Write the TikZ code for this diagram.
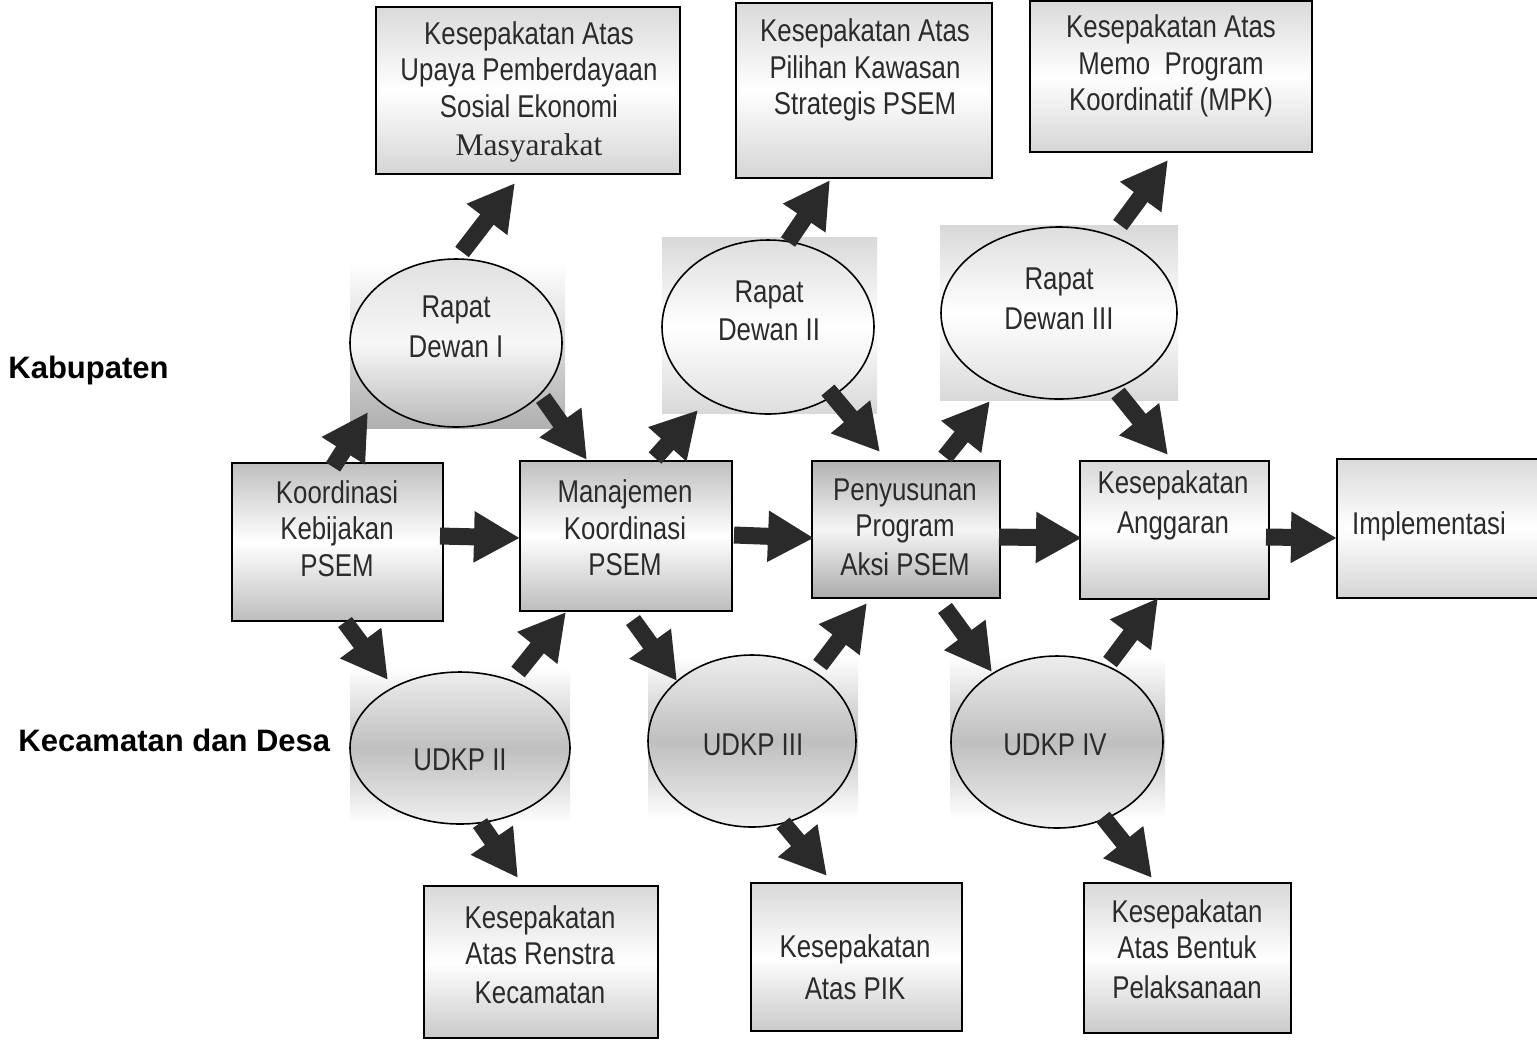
\documentclass[tikz,border=0pt]{standalone}
\usepackage{fontspec}
\setmainfont{Liberation Sans}[FakeStretch=0.82]
\newfontfamily\tnr{Liberation Serif}
\newfontfamily\lbold{Liberation Sans}
\usetikzlibrary{arrows.meta,calc,shapes.geometric}
\definecolor{arr}{HTML}{2A2A2A}
\definecolor{txtc}{HTML}{2B2B2B}
\begin{document}
\begin{tikzpicture}[x=0.5pt,y=-0.5pt,
  box/.style={draw=black,line width=1.2pt,rectangle,inner sep=0pt},
  boxlight/.style={box,top color=gray!29,bottom color=gray!33,middle color=white},
  boxlow/.style={box,top color=gray!30,bottom color=gray!42,middle color=white},
  boxmid/.style={box,top color=gray!50,bottom color=gray!52,middle color=white},
  boxdark/.style={box,top color=gray!60,bottom color=gray!66,middle color=gray!8},
  bgA/.style={rectangle,inner sep=0pt,top color=white,bottom color=gray!62},
  bgB/.style={rectangle,inner sep=0pt,top color=gray!30,bottom color=gray!30,middle color=white},
  bgC/.style={rectangle,inner sep=0pt,top color=white,bottom color=white,middle color=gray!50},
  ell/.style={ellipse,draw=black,line width=0.8pt,inner sep=0pt},
  ellA/.style={ell,top color=gray!24,bottom color=gray!55,middle color=gray!6},
  ellB/.style={ell,top color=gray!26,bottom color=gray!26,middle color=white},
  ellC/.style={ell,top color=gray!14,bottom color=gray!12,middle color=gray!50},
  txt/.style={align=center,text=txtc,inner sep=0pt,font=\fontsize{15.75}{18.25}\selectfont},
  lvl/.style={anchor=west,inner sep=0pt,text=black,font=\lbold\bfseries\fontsize{15.5}{18}\selectfont},
  bigarrow/.style={draw=arr,line width=8.5pt,-{Triangle[width=24pt,length=23pt]}}
]
\useasboundingbox (0,0) rectangle (1537,1041);

% background squares behind the ovals
\node[bgA,minimum width=107.5pt,minimum height=83pt] (rd1bg) at (457.5,345) {};
\node[bgB,minimum width=107.5pt,minimum height=88pt] (rd2bg) at (769.5,325) {};
\node[bgB,minimum width=119pt,minimum height=87.5pt] (rd3bg) at (1059,312.5) {};
\node[bgC,minimum width=110pt,minimum height=77.5pt] (ud2bg) at (460,745.5) {};
\node[bgC,minimum width=105pt,minimum height=80.5pt] (ud3bg) at (753,737.5) {};
\node[bgC,minimum width=107.5pt,minimum height=80.5pt] (ud4bg) at (1057.5,737.5) {};

% ovals
\node[ellA,minimum width=106pt,minimum height=84pt] (rd1) at (456,343) {};
\node[ellB,minimum width=106pt,minimum height=87pt] (rd2) at (768,327) {};
\node[ellB,minimum width=118pt,minimum height=86pt] (rd3) at (1059,313) {};
\node[ellC,minimum width=110pt,minimum height=76pt] (ud2) at (460,748) {};
\node[ellC,minimum width=104pt,minimum height=86pt] (ud3) at (752,741) {};
\node[ellC,minimum width=106pt,minimum height=86pt] (ud4) at (1057,742) {};

% boxes
\node[boxlight,minimum width=152pt,minimum height=83.5pt] (top1) at (528,90.5) {};
\node[boxlight,minimum width=128pt,minimum height=87.5pt] (top2) at (864,90.5) {};
\node[boxlight,minimum width=141pt,minimum height=75.5pt] (top3) at (1171,76.5) {};
\node[boxmid,minimum width=105.5pt,minimum height=79pt] (koord) at (337.5,542) {};
\node[boxmid,minimum width=106pt,minimum height=75pt] (man) at (626,536) {};
\node[boxdark,minimum width=94pt,minimum height=68.5pt] (pen) at (906,529.5) {};
\node[boxlow,minimum width=94.5pt,minimum height=69pt] (ang) at (1174.5,530) {};
\node[boxlight,minimum width=111.5pt,minimum height=69.5pt] (imp) at (1448.5,528.5) {};
\node[boxlow,minimum width=117pt,minimum height=76pt] (ren) at (541,962) {};
\node[boxlow,minimum width=105.5pt,minimum height=74pt] (pik) at (856.5,957) {};
\node[boxlow,minimum width=103.5pt,minimum height=75pt] (ben) at (1187.5,958) {};

% arrows
\draw[bigarrow] ($(koord)+(-4.5,-75)$) -- ($(rd1)+(-88,69)$);
\draw[bigarrow] ($(rd1)+(6,-91)$) -- ($(top1)+(-13,92.5)$);
\draw[bigarrow] ($(rd1)+(87,55)$) -- ($(man)+(-39,-76)$);
\draw[bigarrow] ($(koord)+(102.5,-6)$) -- ($(man)+(-106,2)$);
\draw[bigarrow] ($(koord)+(7.5,80)$) -- ($(ud2)+(-72,-68)$);
\draw[bigarrow] ($(ud2)+(58,-76)$) -- ($(man)+(-60,76)$);
\draw[bigarrow] ($(ud2)+(20,75)$) -- ($(ren)+(-23,-84)$);
\draw[bigarrow] ($(man)+(29,-78)$) -- ($(rd2)+(-70,83)$);
\draw[bigarrow] ($(rd2)+(20,-85)$) -- ($(top2)+(-34,89.5)$);
\draw[bigarrow] ($(rd2)+(60,63)$) -- ($(pen)+(-26,-77.5)$);
\draw[bigarrow] ($(man)+(108,-1)$) -- ($(pen)+(-92,8.5)$);
\draw[bigarrow] ($(man)+(7,84)$) -- ($(ud3)+(-75,-60)$);
\draw[bigarrow] ($(ud3)+(68,-76)$) -- ($(pen)+(-39,73.5)$);
\draw[bigarrow] ($(ud3)+(31,82)$) -- ($(pik)+(-29.5,-81)$);
\draw[bigarrow] ($(pen)+(39,-72.5)$) -- ($(rd3)+(-69,88)$);
\draw[bigarrow] ($(rd3)+(61,-88)$) -- ($(top3)+(-3,83.5)$);
\draw[bigarrow] ($(rd3)+(59,80)$) -- ($(ang)+(-6.5,-75)$);
\draw[bigarrow] ($(pen)+(93,7.5)$) -- ($(ang)+(-92.5,8)$);
\draw[bigarrow] ($(pen)+(39,78.5)$) -- ($(ud4)+(-65,-70)$);
\draw[bigarrow] ($(ud4)+(53,-80)$) -- ($(ang)+(-16.5,68)$);
\draw[bigarrow] ($(ud4)+(46,75)$) -- ($(ben)+(-35.5,-80)$);
\draw[bigarrow] ($(ang)+(91.5,7)$) -- ($(imp)+(-111.5,9.5)$);

% texts
\node[txt] (top1T) at (529,92) {Kesepakatan Atas\\Upaya Pemberdayaan\\Sosial Ekonomi\\[1pt]{\tnr Masyarakat}};
\node[txt] (top2T) at (865,70) {Kesepakatan Atas\\Pilihan Kawasan\\Strategis PSEM};
\node[txt] (top3T) at (1171,66) {Kesepakatan Atas\\Memo\ \ Program\\Koordinatif (MPK)};
\node[txt] (rd1T) at (456,327) {Rapat\\[1.5pt]Dewan I};
\node[txt] (rd2T) at (769,311) {Rapat\\[1pt]Dewan II};
\node[txt] (rd3T) at (1059,299) {Rapat\\[1.5pt]Dewan III};
\node[txt] (koordT) at (337,528.5) {Koordinasi\\Kebijakan\\PSEM};
\node[txt] (manT) at (625,528) {Manajemen\\Koordinasi\\PSEM};
\node[txt] (penT) at (905,527) {Penyusunan\\Program\\[1pt]Aksi PSEM};
\node[txt] (angT) at (1173,505.5) {Kesepakatan\\[2pt]Anggaran};
\node[txt] (impT) at (1429,526) {Implementasi};
\node[txt] (ud2T) at (460,760) {UDKP II};
\node[txt] (ud3T) at (753,745) {UDKP III};
\node[txt] (ud4T) at (1055,745) {UDKP IV};
\node[txt] (renT) at (540,954.5) {Kesepakatan\\Atas Renstra\\[1pt]Kecamatan};
\node[txt] (pikT) at (855,967) {Kesepakatan\\[2.5pt]Atas PIK};
\node[txt] (benT) at (1187,949) {Kesepakatan\\Atas Bentuk\\[1.5pt]Pelaksanaan};

% level labels
\node[lvl] (kab) at (8,370) {Kabupaten};
\node[lvl] (kec) at (18,740) {Kecamatan dan Desa};
\end{tikzpicture}
\end{document}
